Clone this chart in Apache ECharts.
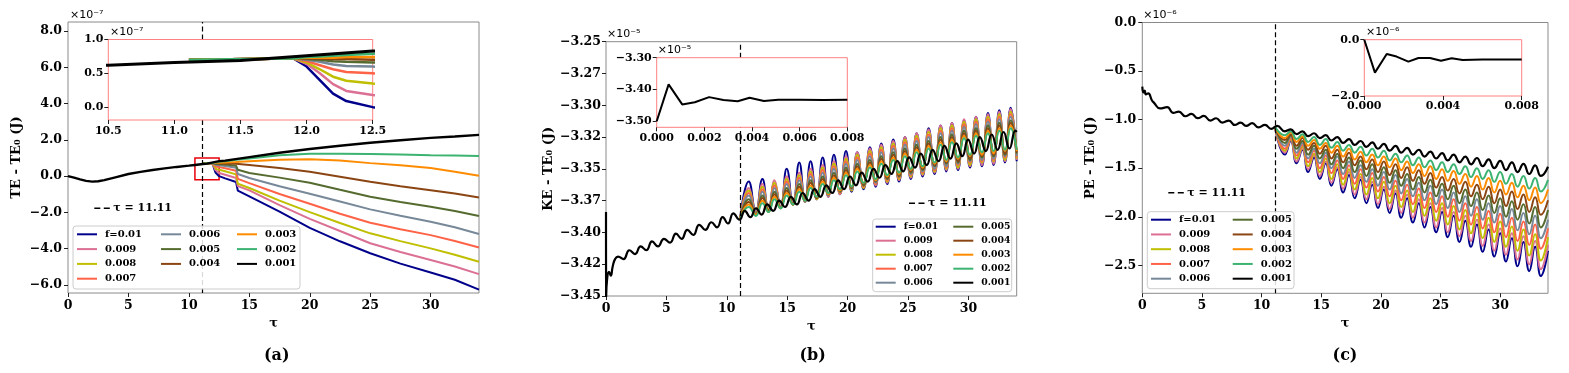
<!DOCTYPE html>
<html>
<head>
<meta charset="utf-8">
<script src="https://cdn.jsdelivr.net/npm/echarts@6/dist/echarts.min.js"></script>
<style>
  html, body { margin: 0; padding: 0; background: #fff; }
  #chart { width: 1569px; height: 373px; }
</style>
</head>
<body>
<div id="chart"></div>
<script>
// series names / colours (legend order, f=0.01 drawn first, black last)
var fNames = ['f=0.01', '0.009', '0.008', '0.007', '0.006', '0.005', '0.004', '0.003', '0.002', '0.001'];
var fColors = ['#00008b', '#db7093', '#bfbf00', '#ff6347', '#778899', '#556b2f', '#8b4513', '#ff8c00', '#3cb371', '#000000'];
var tauMark = 11.11;

// ---------------- (a) TE - TE0, x1e-7 ----------------
var tauA = [11.11, 11.9, 12.0, 12.1, 12.2, 12.3, 12.5, 13.0, 13.9, 14.05, 15, 17.5, 20, 22.5, 25, 27.5, 30, 32, 34];
var teA = [
  [0.70, 0.72, 0.60, 0.40, 0.20, 0.09, 0.00, -0.12, -0.32, -0.80, -1.11, -1.95, -2.85, -3.59, -4.25, -4.82, -5.31, -5.71, -6.25], // 0.01
  [0.70, 0.72, 0.64, 0.50, 0.34, 0.24, 0.18, 0.08, -0.10, -0.55, -0.78, -1.60, -2.35, -3.02, -3.70, -4.18, -4.62, -4.98, -5.40],  // 0.009
  [0.70, 0.72, 0.66, 0.56, 0.45, 0.39, 0.35, 0.27, 0.10, -0.42, -0.65, -1.35, -1.98, -2.58, -3.15, -3.58, -3.98, -4.33, -4.72],   // 0.008
  [0.70, 0.72, 0.68, 0.62, 0.56, 0.52, 0.50, 0.44, 0.30, -0.15, -0.38, -0.98, -1.52, -2.07, -2.57, -2.93, -3.25, -3.57, -3.93],   // 0.007
  [0.70, 0.72, 0.70, 0.67, 0.63, 0.61, 0.60, 0.56, 0.46, 0.12, -0.10, -0.55, -0.97, -1.40, -1.83, -2.18, -2.51, -2.82, -3.19],    // 0.006
  [0.70, 0.72, 0.71, 0.70, 0.68, 0.67, 0.66, 0.64, 0.58, 0.35, 0.18, -0.08, -0.36, -0.75, -1.13, -1.42, -1.69, -1.92, -2.20],     // 0.005
  [0.70, 0.72, 0.72, 0.72, 0.71, 0.71, 0.70, 0.70, 0.68, 0.64, 0.61, 0.45, 0.24, -0.03, -0.31, -0.55, -0.77, -0.95, -1.17],       // 0.004
  [0.70, 0.72, 0.73, 0.73, 0.73, 0.74, 0.74, 0.76, 0.78, 0.78, 0.82, 0.90, 0.93, 0.86, 0.72, 0.60, 0.45, 0.25, 0.02],             // 0.003
  [0.70, 0.72, 0.74, 0.75, 0.76, 0.77, 0.79, 0.82, 0.90, 0.92, 0.98, 1.15, 1.24, 1.24, 1.22, 1.20, 1.16, 1.14, 1.11]              // 0.002
];
var blackTauA = [0, 0.5, 1, 1.5, 2, 2.5, 3, 4, 5, 6, 7, 8, 9, 10, 10.5, 11, 11.5, 12, 12.5, 13, 15, 17.5, 20, 22.5, 25, 27.5, 30, 32, 34];
var blackA = [0.0, -0.08, -0.18, -0.26, -0.30, -0.28, -0.22, -0.05, 0.12, 0.24, 0.34, 0.43, 0.51, 0.58, 0.62, 0.66, 0.69, 0.76, 0.83, 0.86, 1.05, 1.29, 1.50, 1.68, 1.84, 1.98, 2.11, 2.19, 2.28];
var zoomBoxA = [10.5, 12.5, -0.2, 1.0];
var teTicks = [-6, -4, -2, 0, 2, 4, 6, 8];
var teInsetTicksX = [10.5, 11.0, 11.5, 12.0, 12.5];
var teInsetTicksY = [0, 0.5, 1.0];

// ---------------- (b) KE - TE0, x1e-5 ----------------
var blackTauB = [0, 0.01, 0.1, 0.25, 0.4, 0.55, 0.75, 1.0, 1.45, 1.93, 2.4, 2.87, 3.34, 3.81, 4.3, 4.8, 5.3, 5.79, 6.26, 6.73, 7.22, 7.72, 8.22, 8.72, 9.19, 9.66, 10.1, 10.54, 11.05,
  11.49, 11.95, 12.42, 12.88, 13.35, 13.84, 14.33, 14.82, 15.31, 15.8, 16.28, 16.77, 17.26, 17.75, 18.24, 18.73, 19.22, 19.71, 20.2, 20.69,
  21.17, 21.66, 22.15, 22.64, 23.13, 23.62, 24.11, 24.6, 25.09, 25.58, 26.06, 26.55, 27.04, 27.53, 28.02, 28.51, 29.0, 29.49, 29.98, 30.47,
  30.95, 31.44, 31.93, 32.42, 32.91, 33.4, 33.89, 34.0];
var blackB = [-3.384, -3.452, -3.436, -3.431, -3.434, -3.427, -3.421, -3.419, -3.421, -3.414, -3.417, -3.411, -3.414, -3.407, -3.411, -3.405, -3.408, -3.401, -3.405, -3.398, -3.402, -3.394, -3.398, -3.392, -3.396, -3.388, -3.393, -3.385, -3.390,
  -3.383, -3.388, -3.381, -3.386, -3.378, -3.383, -3.375, -3.380, -3.372, -3.378, -3.369, -3.375, -3.366, -3.372, -3.363, -3.369, -3.359, -3.366, -3.356, -3.363,
  -3.353, -3.360, -3.350, -3.357, -3.347, -3.354, -3.344, -3.352, -3.341, -3.349, -3.338, -3.347, -3.335, -3.344, -3.332, -3.342, -3.330, -3.340, -3.327, -3.338,
  -3.325, -3.336, -3.323, -3.335, -3.321, -3.334, -3.320, -3.321];
var startB = [11.11, -3.389];
var tauPeakB = [11.82, 12.95, 13.95, 14.96, 16.0, 16.94, 17.94, 18.87, 19.87, 20.8, 21.85, 22.79, 23.78, 24.75, 25.72, 26.71, 27.7, 28.64, 29.64, 30.63, 31.62, 32.56, 33.5];
var tauTroughB = [12.4, 13.45, 14.45, 15.48, 16.47, 17.44, 18.4, 19.37, 20.33, 21.32, 22.32, 23.28, 24.26, 25.23, 26.21, 27.2, 28.17, 29.14, 30.13, 31.12, 32.09, 33.03, 34.0];
var peakB = [
  [-3.360, -3.358, -3.361, -3.350, -3.345, -3.344, -3.341, -3.339, -3.336, -3.337, -3.333, -3.330, -3.327, -3.325, -3.322, -3.318, -3.316, -3.314, -3.312, -3.309, -3.306, -3.304, -3.302],
  [-3.365, -3.362, -3.359, -3.356, -3.353, -3.350, -3.347, -3.344, -3.340, -3.337, -3.334, -3.331, -3.328, -3.325, -3.322, -3.319, -3.316, -3.314, -3.311, -3.309, -3.307, -3.305, -3.303],
  [-3.367, -3.364, -3.361, -3.358, -3.355, -3.352, -3.349, -3.346, -3.342, -3.339, -3.336, -3.333, -3.330, -3.327, -3.324, -3.321, -3.318, -3.316, -3.313, -3.311, -3.309, -3.307, -3.305],
  [-3.369, -3.366, -3.363, -3.360, -3.357, -3.354, -3.351, -3.348, -3.344, -3.341, -3.338, -3.335, -3.332, -3.329, -3.326, -3.323, -3.320, -3.318, -3.315, -3.313, -3.311, -3.309, -3.307],
  [-3.371, -3.368, -3.365, -3.362, -3.359, -3.356, -3.353, -3.350, -3.346, -3.343, -3.340, -3.337, -3.334, -3.331, -3.328, -3.325, -3.322, -3.320, -3.317, -3.315, -3.313, -3.311, -3.309],
  [-3.374, -3.371, -3.368, -3.365, -3.362, -3.359, -3.356, -3.353, -3.349, -3.346, -3.343, -3.340, -3.337, -3.334, -3.331, -3.328, -3.325, -3.323, -3.320, -3.318, -3.316, -3.314, -3.312],
  [-3.376, -3.373, -3.370, -3.367, -3.364, -3.361, -3.358, -3.355, -3.351, -3.348, -3.345, -3.342, -3.339, -3.336, -3.333, -3.330, -3.327, -3.325, -3.322, -3.320, -3.318, -3.316, -3.314],
  [-3.378, -3.375, -3.372, -3.369, -3.366, -3.363, -3.360, -3.357, -3.353, -3.350, -3.347, -3.344, -3.341, -3.338, -3.335, -3.332, -3.329, -3.327, -3.324, -3.322, -3.320, -3.318, -3.316],
  [-3.380, -3.377, -3.374, -3.371, -3.368, -3.365, -3.362, -3.359, -3.355, -3.352, -3.349, -3.346, -3.343, -3.340, -3.337, -3.334, -3.331, -3.329, -3.326, -3.324, -3.322, -3.320, -3.318]
];
var troughB = [
  [-3.384, -3.382, -3.380, -3.378, -3.376, -3.374, -3.372, -3.370, -3.368, -3.366, -3.364, -3.362, -3.360, -3.358, -3.356, -3.354, -3.352, -3.351, -3.349, -3.348, -3.347, -3.345, -3.344],
  [-3.384, -3.382, -3.380, -3.378, -3.376, -3.374, -3.372, -3.370, -3.367, -3.365, -3.363, -3.361, -3.359, -3.357, -3.355, -3.353, -3.351, -3.350, -3.348, -3.347, -3.346, -3.344, -3.343],
  [-3.385, -3.382, -3.380, -3.378, -3.376, -3.374, -3.371, -3.369, -3.367, -3.365, -3.362, -3.360, -3.358, -3.356, -3.354, -3.352, -3.350, -3.349, -3.347, -3.345, -3.344, -3.343, -3.342],
  [-3.385, -3.383, -3.380, -3.378, -3.376, -3.373, -3.371, -3.369, -3.366, -3.364, -3.362, -3.359, -3.357, -3.355, -3.353, -3.351, -3.349, -3.347, -3.345, -3.344, -3.343, -3.341, -3.341],
  [-3.385, -3.383, -3.380, -3.378, -3.376, -3.373, -3.371, -3.368, -3.366, -3.363, -3.361, -3.358, -3.356, -3.354, -3.352, -3.350, -3.348, -3.346, -3.344, -3.343, -3.342, -3.340, -3.340],
  [-3.386, -3.383, -3.381, -3.378, -3.375, -3.373, -3.370, -3.368, -3.365, -3.363, -3.360, -3.358, -3.356, -3.353, -3.351, -3.348, -3.346, -3.345, -3.343, -3.341, -3.340, -3.339, -3.338],
  [-3.386, -3.383, -3.381, -3.378, -3.375, -3.373, -3.370, -3.367, -3.365, -3.362, -3.359, -3.357, -3.355, -3.352, -3.350, -3.347, -3.345, -3.344, -3.342, -3.340, -3.339, -3.338, -3.337],
  [-3.386, -3.384, -3.381, -3.378, -3.375, -3.372, -3.370, -3.367, -3.364, -3.361, -3.359, -3.356, -3.354, -3.351, -3.349, -3.346, -3.344, -3.342, -3.340, -3.339, -3.338, -3.336, -3.336],
  [-3.387, -3.384, -3.381, -3.378, -3.375, -3.372, -3.369, -3.366, -3.364, -3.361, -3.358, -3.355, -3.353, -3.350, -3.348, -3.345, -3.343, -3.341, -3.339, -3.337, -3.336, -3.335, -3.335]
];
var keTicks = [-3.45, -3.425, -3.40, -3.375, -3.35, -3.325, -3.30, -3.275, -3.25];
var keTickLabels = ['\u22123.45', '\u22123.42', '\u22123.40', '\u22123.37', '\u22123.35', '\u22123.32', '\u22123.30', '\u22123.27', '\u22123.25'];
var keInsetTau = [0, 0.0005, 0.00107, 0.0016, 0.0022, 0.0028, 0.0034, 0.0039, 0.0045, 0.0051, 0.006, 0.007, 0.008];
var keInset = [-3.50, -3.384, -3.447, -3.440, -3.424, -3.433, -3.437, -3.426, -3.436, -3.432, -3.432, -3.433, -3.432];
var keInsetTicksX = [0, 0.002, 0.004, 0.006, 0.008];
var keInsetTicksY = [-3.5, -3.4, -3.3];

// ---------------- (c) PE - TE0, x1e-6 ----------------
var blackPreTauC = [0, 0.1, 0.2, 0.3, 0.5, 0.8, 0.97, 1.5, 2.08, 2.6, 3.06, 3.6, 4.13, 4.65, 5.16, 5.7, 6.19, 6.7, 7.26, 7.75, 8.24, 8.7, 9.21, 9.75, 10.28, 10.8, 11.3];
var blackPreC = [-0.66, -0.72, -0.70, -0.74, -0.73, -0.80, -0.825, -0.885, -0.872, -0.93, -0.917, -0.965, -0.941, -0.985, -0.962, -1.01, -0.986, -1.03, -1.01, -1.055, -1.031, -1.065, -1.037, -1.08, -1.055, -1.095, -1.065];
var startC = [11.11, -1.07];
var tauTroughC = [11.95, 12.93, 13.9, 14.88, 15.85, 16.83, 17.8, 18.78, 19.75, 20.73, 21.7, 22.68, 23.65, 24.63, 25.6, 26.58, 27.55, 28.53, 29.5, 30.48, 31.45, 32.43, 33.4];
var tauPeakC = [12.44, 13.42, 14.39, 15.37, 16.34, 17.32, 18.29, 19.27, 20.24, 21.22, 22.19, 23.17, 24.14, 25.12, 26.09, 27.07, 28.04, 29.02, 29.99, 30.97, 31.94, 32.92, 34.0];
var troughC = [
  [-1.36, -1.45, -1.54, -1.61, -1.68, -1.75, -1.81, -1.86, -1.91, -1.96, -2.01, -2.06, -2.11, -2.16, -2.21, -2.26, -2.31, -2.36, -2.41, -2.46, -2.51, -2.56, -2.61],
  [-1.34, -1.43, -1.51, -1.58, -1.65, -1.71, -1.77, -1.82, -1.87, -1.92, -1.96, -2.01, -2.06, -2.11, -2.16, -2.20, -2.25, -2.30, -2.35, -2.39, -2.44, -2.49, -2.54],
  [-1.32, -1.40, -1.48, -1.54, -1.61, -1.67, -1.72, -1.77, -1.81, -1.86, -1.90, -1.95, -1.99, -2.04, -2.08, -2.13, -2.17, -2.22, -2.26, -2.31, -2.35, -2.40, -2.45],
  [-1.30, -1.37, -1.44, -1.50, -1.55, -1.61, -1.66, -1.70, -1.74, -1.79, -1.83, -1.87, -1.91, -1.95, -2.00, -2.04, -2.08, -2.12, -2.16, -2.21, -2.25, -2.29, -2.33],
  [-1.27, -1.34, -1.40, -1.45, -1.50, -1.56, -1.60, -1.64, -1.68, -1.72, -1.76, -1.79, -1.83, -1.87, -1.91, -1.95, -1.99, -2.03, -2.06, -2.10, -2.14, -2.18, -2.22],
  [-1.24, -1.30, -1.36, -1.40, -1.46, -1.50, -1.54, -1.58, -1.61, -1.65, -1.68, -1.72, -1.75, -1.79, -1.82, -1.86, -1.89, -1.93, -1.96, -2.00, -2.03, -2.07, -2.11],
  [-1.21, -1.27, -1.31, -1.35, -1.40, -1.44, -1.47, -1.51, -1.54, -1.57, -1.60, -1.63, -1.66, -1.70, -1.73, -1.76, -1.79, -1.82, -1.86, -1.89, -1.92, -1.95, -1.98],
  [-1.19, -1.23, -1.27, -1.30, -1.34, -1.38, -1.41, -1.44, -1.47, -1.49, -1.52, -1.55, -1.58, -1.61, -1.63, -1.66, -1.69, -1.72, -1.75, -1.77, -1.80, -1.83, -1.86],
  [-1.16, -1.20, -1.23, -1.26, -1.29, -1.32, -1.34, -1.37, -1.39, -1.42, -1.44, -1.47, -1.49, -1.52, -1.54, -1.56, -1.59, -1.61, -1.64, -1.66, -1.69, -1.71, -1.74],
  [-1.12, -1.15, -1.17, -1.19, -1.215, -1.24, -1.26, -1.28, -1.30, -1.32, -1.34, -1.36, -1.38, -1.40, -1.42, -1.44, -1.46, -1.48, -1.50, -1.52, -1.54, -1.56, -1.58]
];
var peakC = [
  [-1.22, -1.31, -1.39, -1.45, -1.51, -1.57, -1.62, -1.67, -1.72, -1.76, -1.81, -1.86, -1.90, -1.95, -1.99, -2.04, -2.08, -2.13, -2.17, -2.22, -2.26, -2.31, -2.35],
  [-1.21, -1.30, -1.37, -1.43, -1.49, -1.54, -1.59, -1.64, -1.69, -1.73, -1.77, -1.82, -1.86, -1.91, -1.95, -1.99, -2.03, -2.08, -2.12, -2.17, -2.20, -2.25, -2.29],
  [-1.20, -1.28, -1.35, -1.40, -1.46, -1.51, -1.56, -1.60, -1.64, -1.68, -1.73, -1.77, -1.81, -1.86, -1.89, -1.93, -1.97, -2.01, -2.05, -2.10, -2.13, -2.18, -2.21],
  [-1.19, -1.26, -1.32, -1.37, -1.42, -1.47, -1.51, -1.55, -1.59, -1.63, -1.67, -1.71, -1.75, -1.79, -1.82, -1.86, -1.90, -1.94, -1.97, -2.01, -2.05, -2.08, -2.12],
  [-1.17, -1.24, -1.30, -1.34, -1.38, -1.43, -1.47, -1.51, -1.54, -1.57, -1.61, -1.65, -1.68, -1.72, -1.75, -1.79, -1.82, -1.86, -1.89, -1.92, -1.96, -1.99, -2.03],
  [-1.16, -1.22, -1.27, -1.31, -1.35, -1.39, -1.42, -1.46, -1.49, -1.52, -1.56, -1.59, -1.62, -1.66, -1.68, -1.72, -1.75, -1.78, -1.81, -1.84, -1.87, -1.90, -1.93],
  [-1.15, -1.19, -1.24, -1.27, -1.31, -1.34, -1.38, -1.41, -1.43, -1.46, -1.49, -1.52, -1.55, -1.59, -1.61, -1.64, -1.67, -1.69, -1.72, -1.74, -1.77, -1.80, -1.83],
  [-1.13, -1.17, -1.21, -1.24, -1.27, -1.30, -1.33, -1.36, -1.38, -1.40, -1.43, -1.46, -1.48, -1.51, -1.53, -1.56, -1.58, -1.60, -1.63, -1.65, -1.68, -1.70, -1.72],
  [-1.12, -1.15, -1.18, -1.20, -1.23, -1.26, -1.28, -1.30, -1.32, -1.35, -1.37, -1.39, -1.42, -1.44, -1.46, -1.48, -1.50, -1.52, -1.54, -1.56, -1.58, -1.60, -1.62],
  [-1.10, -1.12, -1.14, -1.16, -1.18, -1.20, -1.22, -1.235, -1.25, -1.27, -1.29, -1.31, -1.33, -1.345, -1.36, -1.38, -1.395, -1.41, -1.425, -1.44, -1.455, -1.47, -1.485]
];
var peTicks = [-2.5, -2.0, -1.5, -1.0, -0.5, 0.0];
var peInsetTau = [0, 0.00054, 0.00114, 0.00164, 0.00224, 0.00275, 0.00334, 0.0039, 0.00444, 0.005, 0.006, 0.007, 0.008];
var peInset = [0.0, -1.17, -0.51, -0.60, -0.78, -0.65, -0.65, -0.75, -0.66, -0.72, -0.70, -0.70, -0.70];
var peInsetTicksX = [0, 0.004, 0.008];
var peInsetTicksY = [-2.0, 0.0];
var tauTicks = [0, 5, 10, 15, 20, 25, 30];

// ---------------- layout ----------------
var SERIF = 'DejaVu Serif';
var boxes = [
  { left: 68, top: 22, width: 411, height: 271 },        // (a)
  { left: 108.3, top: 39.5, width: 264.4, height: 80.5 }, // (a) inset
  { left: 606, top: 41.7, width: 410.7, height: 254.3 },  // (b)
  { left: 656.7, top: 57.7, width: 190.6, height: 69.6 }, // (b) inset
  { left: 1142.3, top: 22.5, width: 405.7, height: 270.8 }, // (c)
  { left: 1364.3, top: 39.7, width: 157.4, height: 56.3 }   // (c) inset
];
var yRange = [[-6.44, 8.5], [-0.19, 1.0], [-3.45, -3.25], [-3.519, -3.30], [-2.788, 0.0], [-2.0, 0.0]];
var xRange = [[0, 34], [10.5, 12.5], [0, 34], [0, 0.008], [0, 34], [0, 0.008]];

// ---------------- helpers ----------------
function pairs(t, v) { return t.map(function (x, i) { return [x, v[i]]; }); }
function wave(start, t1, v1, t2, v2) {
  var out = start ? [start] : [];
  for (var i = 0; i < t1.length; i++) { out.push([t1[i], v1[i]]); out.push([t2[i], v2[i]]); }
  return out;
}
function minus(s) { return s.replace('-', '\u2212'); }
function fixed(d) { return function (v) { return minus(Number(v).toFixed(d)); }; }
// y value at a pixel row of a main grid (used to stop the dashed line at an inset's edge)
function yAtPx(g, py) {
  var b = boxes[g], r = yRange[g];
  return r[1] - (py - b.top) / b.height * (r[1] - r[0]);
}

function axis(g, isX, ticks, fmt, size, margin) {
  var inset = g % 2 === 1;
  var r = isX ? xRange[g] : yRange[g];
  return {
    type: 'value', gridIndex: g, min: r[0], max: r[1], zlevel: inset ? 1 : 0, z: 2,
    axisLine: { show: false, onZero: false }, splitLine: { show: false },
    axisTick: { show: true, length: 4, customValues: ticks, lineStyle: { color: '#222', width: 1 } },
    axisLabel: { customValues: ticks, formatter: fmt, fontFamily: SERIF, fontWeight: 'bold', fontSize: size, color: '#000', margin: margin }
  };
}
function grid(g) {
  var inset = g % 2 === 1, b = boxes[g];
  return { left: b.left, top: b.top, width: b.width, height: b.height, show: true,
    borderColor: inset ? '#ff8080' : '#8a8a8a', borderWidth: 1, backgroundColor: '#fff', zlevel: inset ? 1 : 0 };
}
function line(name, g, data, width, color, smooth) {
  return {
    type: 'line', name: name, xAxisIndex: g, yAxisIndex: g, data: data,
    symbol: 'none', showSymbol: false, smooth: smooth || false, zlevel: g % 2, z: 2, animation: false,
    lineStyle: { color: color, width: width }, itemStyle: { color: color }
  };
}
// dashed tau = 11.11 line; on a main grid it is cut where an inset sits over it
function dashMark(g, skipInset) {
  var r = yRange[g], data;
  if (skipInset) {
    var ib = boxes[g + 1];
    data = [
      [{ coord: [tauMark, r[0]] }, { coord: [tauMark, yAtPx(g, ib.top + ib.height)] }],
      [{ coord: [tauMark, yAtPx(g, ib.top)] }, { coord: [tauMark, r[1]] }]
    ];
  } else {
    data = [[{ coord: [tauMark, r[0]] }, { coord: [tauMark, r[1]] }]];
  }
  return { symbol: 'none', silent: true, label: { show: false },
    lineStyle: { type: [5, 3], color: '#000', width: 1.2 }, data: data };
}

var grids = [0, 1, 2, 3, 4, 5].map(grid);
var xAxes = [
  axis(0, true, tauTicks, fixed(0), 12.5, 6),
  axis(1, true, teInsetTicksX, fixed(1), 11, 6),
  axis(2, true, tauTicks, fixed(0), 12.5, 6),
  axis(3, true, keInsetTicksX, fixed(3), 11, 5),
  axis(4, true, tauTicks, fixed(0), 12.5, 6),
  axis(5, true, peInsetTicksX, fixed(3), 11, 5)
];
var yAxes = [
  axis(0, false, teTicks, fixed(1), 12.5, 6),
  axis(1, false, teInsetTicksY, fixed(1), 11, 5),
  axis(2, false, keTicks, function (v) {
    for (var i = 0; i < keTicks.length; i++) if (Math.abs(keTicks[i] - v) < 1e-6) return keTickLabels[i];
    return '';
  }, 12.5, 5),
  axis(3, false, keInsetTicksY, fixed(2), 11, 5),
  axis(4, false, peTicks, fixed(1), 12.5, 6),
  axis(5, false, peInsetTicksY, fixed(1), 11, 5)
];
// axis names
var nameStyle = { fontFamily: SERIF, fontWeight: 'bold', fontSize: 13, color: '#000' };
[0, 2, 4].forEach(function (i) {
  xAxes[i].name = '\u03c4'; xAxes[i].nameLocation = 'middle'; xAxes[i].nameGap = 20; xAxes[i].nameTextStyle = nameStyle;
});
yAxes[0].name = 'TE - TE\u2080 (J)'; yAxes[0].nameGap = 45;
yAxes[2].name = 'KE - TE\u2080 (J)'; yAxes[2].nameGap = 51;
yAxes[4].name = 'PE - TE\u2080 (J)'; yAxes[4].nameGap = 45;
[0, 2, 4].forEach(function (i) { yAxes[i].nameLocation = 'middle'; yAxes[i].nameTextStyle = nameStyle; });

// ---------------- series ----------------
var series = [];
// (a) main + inset
for (var s = 0; s < 9; s++) series.push(line(fNames[s], 0, pairs(tauA, teA[s]), 2, fColors[s]));
var blackMainA = line(fNames[9], 0, pairs(blackTauA, blackA), 2.4, fColors[9]);
blackMainA.markLine = dashMark(0, true);
blackMainA.markArea = { silent: true, itemStyle: { color: 'rgba(0,0,0,0)', borderColor: '#e8000b', borderWidth: 1.5 },
  data: [[{ xAxis: zoomBoxA[0], yAxis: zoomBoxA[2] }, { xAxis: zoomBoxA[1], yAxis: zoomBoxA[3] }]] };
series.push(blackMainA);
for (s = 0; s < 9; s++) series.push(line(fNames[s], 1, pairs(tauA, teA[s]), 2.5, fColors[s]));
var blackInsetA = line(fNames[9], 1, pairs(blackTauA, blackA), 3, fColors[9]);
blackInsetA.markLine = dashMark(1, false);
series.push(blackInsetA);

// (b) main + inset
for (s = 0; s < 9; s++) series.push(line(fNames[s], 2, wave(startB, tauPeakB, peakB[s], tauTroughB, troughB[s]), 2, fColors[s], 0.5));
var blackMainB = line(fNames[9], 2, pairs(blackTauB, blackB), 2.2, fColors[9], 0.5);
blackMainB.markLine = dashMark(2, true);
series.push(blackMainB);
series.push(line(fNames[9], 3, pairs(keInsetTau, keInset), 2, fColors[9]));

// (c) main + inset
for (s = 0; s < 9; s++) series.push(line(fNames[s], 4, wave(startC, tauTroughC, troughC[s], tauPeakC, peakC[s]), 2, fColors[s], 0.5));
var blackMainC = line(fNames[9], 4, pairs(blackPreTauC, blackPreC).concat(wave(null, tauTroughC, troughC[9], tauPeakC, peakC[9])), 2.2, fColors[9], 0.5);
blackMainC.markLine = dashMark(4, false);
series.push(blackMainC);
series.push(line(fNames[9], 5, pairs(peInsetTau, peInset), 2, fColors[9]));

// ---------------- legends (column-major like the original) ----------------
function legend(names, left, top, gap, size) {
  return { data: names, left: left, top: top, orient: 'vertical', itemGap: gap, itemWidth: 20, itemHeight: 2,
    icon: 'rect', padding: 0, selectedMode: false, z: 11,
    textStyle: { fontFamily: SERIF, fontWeight: 'bold', fontSize: size, lineHeight: 10, color: '#000', padding: [0, 0, 0, 3] } };
}
var legends = [
  legend(fNames.slice(0, 4), 77, 229.3, 4.8, 10),
  legend(fNames.slice(4, 7), 161, 229.3, 4.8, 10),
  legend(fNames.slice(7, 10), 237, 229.3, 4.8, 10),
  legend(fNames.slice(0, 5), 875.7, 221.7, 4, 9.3),
  legend(fNames.slice(5, 10), 953.3, 221.7, 4, 9.3),
  legend(fNames.slice(0, 5), 1151, 214.7, 4.75, 10),
  legend(fNames.slice(5, 10), 1232.7, 214.7, 4.75, 10)
];

// ---------------- text / frames ----------------
function frame(x, y, w, h) {
  return { type: 'rect', z: 10, silent: true, shape: { x: x, y: y, width: w, height: h, r: 3 },
    style: { fill: 'rgba(255,255,255,0.85)', stroke: '#cccccc', lineWidth: 1 } };
}
function txt(x, y, s, font, align, zl) {
  return { type: 'text', x: x, y: y, z: 12, zlevel: zl || 0, silent: true,
    style: { text: s, font: font, fill: '#000', align: align || 'left', verticalAlign: 'middle' } };
}
function tauKey(x, y) {
  return [
    { type: 'line', z: 12, silent: true, shape: { x1: x, y1: y, x2: x + 16, y2: y }, style: { stroke: '#000', lineWidth: 1.5, lineDash: [6, 3.5] } },
    txt(x + 19, y, '\u03c4 = 11.11', 'bold 11px ' + SERIF)
  ];
}
var expFont = '11px DejaVu Sans';
var graphics = [
  frame(73, 226, 227, 63), frame(872.7, 219, 139, 72.7), frame(1147.3, 211.7, 146.7, 77),
  txt(70, 15, '\u00d710\u207b\u2077', expFont), txt(110, 32, '\u00d710\u207b\u2077', expFont, 'left', 1),
  txt(607, 34.3, '\u00d710\u207b\u2075', expFont), txt(657.7, 50, '\u00d710\u207b\u2075', expFont, 'left', 1),
  txt(1143.3, 15, '\u00d710\u207b\u2076', expFont), txt(1366, 31.7, '\u00d710\u207b\u2076', expFont, 'left', 1),
  txt(276.7, 356, '(a)', 'bold 16px ' + SERIF, 'center'),
  txt(812.7, 356, '(b)', 'bold 16px ' + SERIF, 'center'),
  txt(1345, 356, '(c)', 'bold 16px ' + SERIF, 'center')
].concat(tauKey(94.3, 208.3), tauKey(909, 203.3), tauKey(1168.3, 192.7));

var chart = echarts.init(document.getElementById('chart'));
chart.setOption({
  animation: false,
  backgroundColor: '#fff',
  grid: grids,
  xAxis: xAxes,
  yAxis: yAxes,
  legend: legends,
  series: series,
  graphic: graphics
});
</script>
</body>
</html>
